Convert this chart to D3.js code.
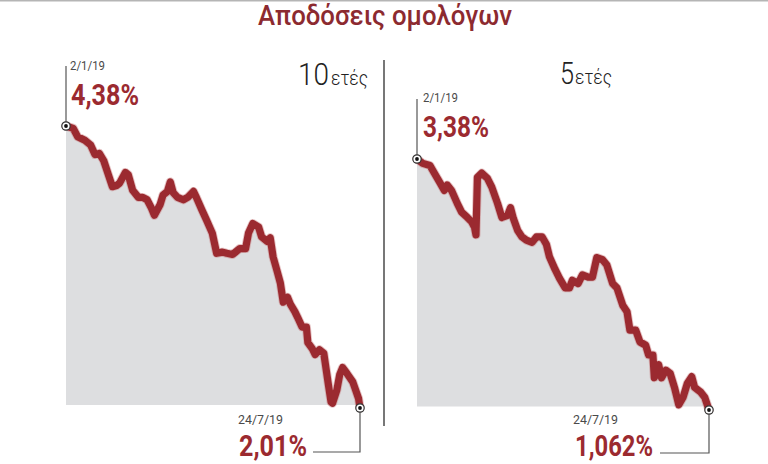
<!DOCTYPE html>
<html>
<head>
<meta charset="utf-8">
<script src="https://cdn.jsdelivr.net/npm/d3@7"></script>
<style>
  html, body { margin: 0; padding: 0; background: #fff; }
  svg { display: block; }
  text { font-family: Roboto, "Noto Sans", sans-serif; }
</style>
</head>
<body>
<svg id="chart" width="768" height="464"></svg>
<script>
// ---- Data ----
const title = "Αποδόσεις ομολόγων";

const dates10 = ["2019-01-02","2019-01-07","2019-01-10","2019-01-15","2019-01-19","2019-01-22","2019-01-25","2019-01-28","2019-01-31","2019-02-03","2019-02-06","2019-02-08","2019-02-12","2019-02-14","2019-02-17","2019-02-21","2019-02-24","2019-02-27","2019-03-02","2019-03-04","2019-03-08","2019-03-10","2019-03-13","2019-03-15","2019-03-17","2019-03-20","2019-03-24","2019-03-27","2019-03-31","2019-04-02","2019-04-06","2019-04-09","2019-04-13","2019-04-16","2019-04-20","2019-04-23","2019-04-27","2019-04-29","2019-05-02","2019-05-06","2019-05-08","2019-05-11","2019-05-15","2019-05-17","2019-05-21","2019-05-23","2019-05-25","2019-05-28","2019-05-30","2019-06-01","2019-06-04","2019-06-06","2019-06-09","2019-06-11","2019-06-14","2019-06-17","2019-06-18","2019-06-21","2019-06-23","2019-06-26","2019-06-29","2019-07-02","2019-07-04","2019-07-05","2019-07-08","2019-07-10","2019-07-12","2019-07-15","2019-07-19","2019-07-21","2019-07-23","2019-07-24"];
const values10 = [4.38,4.36,4.29,4.26,4.22,4.14,4.15,4.09,3.98,3.87,3.88,3.90,3.99,3.97,3.84,3.78,3.78,3.76,3.69,3.63,3.72,3.80,3.83,3.91,3.82,3.78,3.76,3.78,3.83,3.78,3.67,3.59,3.48,3.31,3.32,3.31,3.30,3.32,3.35,3.35,3.48,3.56,3.53,3.45,3.41,3.44,3.28,3.15,3.06,2.90,2.94,2.88,2.82,2.77,2.69,2.69,2.56,2.51,2.46,2.50,2.47,2.22,2.06,2.05,2.16,2.29,2.35,2.30,2.23,2.16,2.09,2.01];

const dates5 = ["2019-01-02","2019-01-06","2019-01-11","2019-01-14","2019-01-18","2019-01-21","2019-01-23","2019-01-26","2019-01-30","2019-02-02","2019-02-06","2019-02-09","2019-02-11","2019-02-12","2019-02-13","2019-02-16","2019-02-20","2019-02-23","2019-02-27","2019-03-02","2019-03-06","2019-03-08","2019-03-10","2019-03-13","2019-03-16","2019-03-19","2019-03-23","2019-03-26","2019-03-30","2019-04-02","2019-04-04","2019-04-08","2019-04-11","2019-04-15","2019-04-18","2019-04-20","2019-04-24","2019-04-27","2019-05-01","2019-05-04","2019-05-07","2019-05-11","2019-05-14","2019-05-18","2019-05-21","2019-05-25","2019-05-28","2019-05-30","2019-06-03","2019-06-06","2019-06-10","2019-06-12","2019-06-15","2019-06-16","2019-06-19","2019-06-21","2019-06-24","2019-06-27","2019-06-30","2019-07-03","2019-07-06","2019-07-09","2019-07-12","2019-07-14","2019-07-18","2019-07-21","2019-07-24"];
const values5 = [3.38,3.34,3.32,3.25,3.16,3.09,3.14,3.09,2.97,2.89,2.84,2.80,2.75,2.68,3.21,3.25,3.20,3.12,2.97,2.84,2.86,2.93,2.83,2.72,2.66,2.63,2.61,2.66,2.66,2.59,2.48,2.36,2.28,2.19,2.19,2.26,2.23,2.31,2.29,2.29,2.47,2.45,2.40,2.23,2.19,2.03,1.97,1.80,1.80,1.69,1.66,1.57,1.57,1.36,1.48,1.36,1.43,1.40,1.27,1.11,1.18,1.31,1.37,1.27,1.23,1.18,1.062];

const panelTitles = [["10", "ετές"], ["5", "ετές"]];
const startLabels = ["2/1/19", "2/1/19"];
const startValueLabels = ["4,38%", "3,38%"];
const endLabels = ["24/7/19", "24/7/19"];
const endValueLabels = ["2,01%", "1,062%"];

// ---- Drawing ----
const svg = d3.select("#chart");
const parse = d3.timeParse("%Y-%m-%d");
const RED = "#9b2a30";
const GRAY_TXT = "#4a4a4a";

// top border
svg.append("line").attr("x1", 0).attr("x2", 768).attr("y1", 0.5).attr("y2", 0.5)
  .attr("stroke", "#b5b5b5").attr("stroke-width", 2);

// title
svg.append("text").attr("x", 258).attr("y", 25)
  .attr("font-size", 28).attr("font-weight", 500).attr("fill", "#8c2a30")
  .attr("textLength", 254).attr("lengthAdjust", "spacingAndGlyphs")
  .text(title);

// divider
svg.append("line").attr("x1", 384).attr("x2", 384).attr("y1", 60).attr("y2", 426)
  .attr("stroke", "#555").attr("stroke-width", 1.6);

const panels = [
  { dates: dates10, values: values10, xr: [66, 360], yr: [408, 126], base: 405,
    startLbl: {x: 70, y: 70, w: 35}, startVal: {x: 71, y: 105, w: 68}, startLeaderTop: 66,
    endLbl: {x: 238, y: 424, w: 45}, endVal: {x: 239, y: 456, w: 68}, endLeaderY: 452, endLeaderX: 313,
    titlePos: {x: 298, y: 85, w1: 31, x2: 331, w2: 37} },
  { dates: dates5, values: values5, xr: [417, 709], yr: [410, 159], base: 406.5,
    startLbl: {x: 423, y: 102, w: 35}, startVal: {x: 423, y: 137, w: 66}, startLeaderTop: 99,
    endLbl: {x: 573, y: 424, w: 45}, endVal: {x: 575, y: 456, w: 78}, endLeaderY: 453, endLeaderX: 660,
    titlePos: {x: 560, y: 84, w1: 14, x2: 575, w2: 37} }
];

panels.forEach((p, i) => {
  const data = p.dates.map((d, j) => ({ date: parse(d), value: p.values[j] }));
  const x = d3.scaleTime().domain(d3.extent(data, d => d.date)).range(p.xr);
  const y = d3.scaleLinear().domain(d3.extent(data, d => d.value)).range(p.yr);
  const baseValue = y.invert(p.base);

  const g = svg.append("g");

  g.append("path").datum(data)
    .attr("fill", "#dddee0")
    .attr("d", d3.area().x(d => x(d.date)).y0(y(baseValue)).y1(d => y(d.value)));

  // halo
  g.append("path").datum(data)
    .attr("fill", "none").attr("stroke", "#c77a7c").attr("stroke-width", 9)
    .attr("stroke-linejoin", "round").attr("stroke-linecap", "round").attr("opacity", 0.45)
    .attr("d", d3.line().x(d => x(d.date)).y(d => y(d.value)));
  g.append("path").datum(data)
    .attr("fill", "none").attr("stroke", RED).attr("stroke-width", 7.2)
    .attr("stroke-linejoin", "round").attr("stroke-linecap", "round")
    .attr("d", d3.line().x(d => x(d.date)).y(d => y(d.value)));

  const first = data[0], last = data[data.length - 1];
  const fx = x(first.date), fy = y(first.value);
  const lx = x(last.date), ly = y(last.value);

  // leader lines
  g.append("line").attr("x1", fx).attr("x2", fx).attr("y1", fy).attr("y2", p.startLeaderTop)
    .attr("stroke", "#555").attr("stroke-width", 1.2);
  g.append("polyline")
    .attr("points", `${lx},${ly} ${lx},${p.endLeaderY} ${p.endLeaderX},${p.endLeaderY}`)
    .attr("fill", "none").attr("stroke", "#555").attr("stroke-width", 1.2);

  // markers
  [[fx, fy], [lx, ly]].forEach(([cx, cy]) => {
    g.append("circle").attr("cx", cx).attr("cy", cy).attr("r", 4.2)
      .attr("fill", "#fff").attr("stroke", "#333").attr("stroke-width", 1.2);
    g.append("circle").attr("cx", cx).attr("cy", cy).attr("r", 1.9).attr("fill", "#111");
  });

  // labels
  const small = (t, pos) => g.append("text").attr("x", pos.x).attr("y", pos.y)
    .attr("font-size", 12.5).attr("fill", GRAY_TXT).attr("font-weight", 400)
    .attr("textLength", pos.w).attr("lengthAdjust", "spacingAndGlyphs").text(t);
  const big = (t, pos) => g.append("text").attr("x", pos.x).attr("y", pos.y)
    .attr("font-size", 29).attr("fill", RED).attr("font-weight", 700)
    .attr("textLength", pos.w).attr("lengthAdjust", "spacingAndGlyphs").text(t);

  small(startLabels[i], p.startLbl);
  big(startValueLabels[i], p.startVal);
  small(endLabels[i], p.endLbl);
  big(endValueLabels[i], p.endVal);

  // panel title
  const tp = p.titlePos;
  g.append("text").attr("x", tp.x).attr("y", tp.y)
    .attr("font-size", 32).attr("font-weight", 300).attr("fill", "#222")
    .attr("textLength", tp.w1).attr("lengthAdjust", "spacingAndGlyphs")
    .text(panelTitles[i][0]);
  g.append("text").attr("x", tp.x2).attr("y", tp.y)
    .attr("font-size", 20).attr("font-weight", 300).attr("fill", "#222")
    .attr("textLength", tp.w2).attr("lengthAdjust", "spacingAndGlyphs")
    .text(panelTitles[i][1]);
});
</script>
</body>
</html>
